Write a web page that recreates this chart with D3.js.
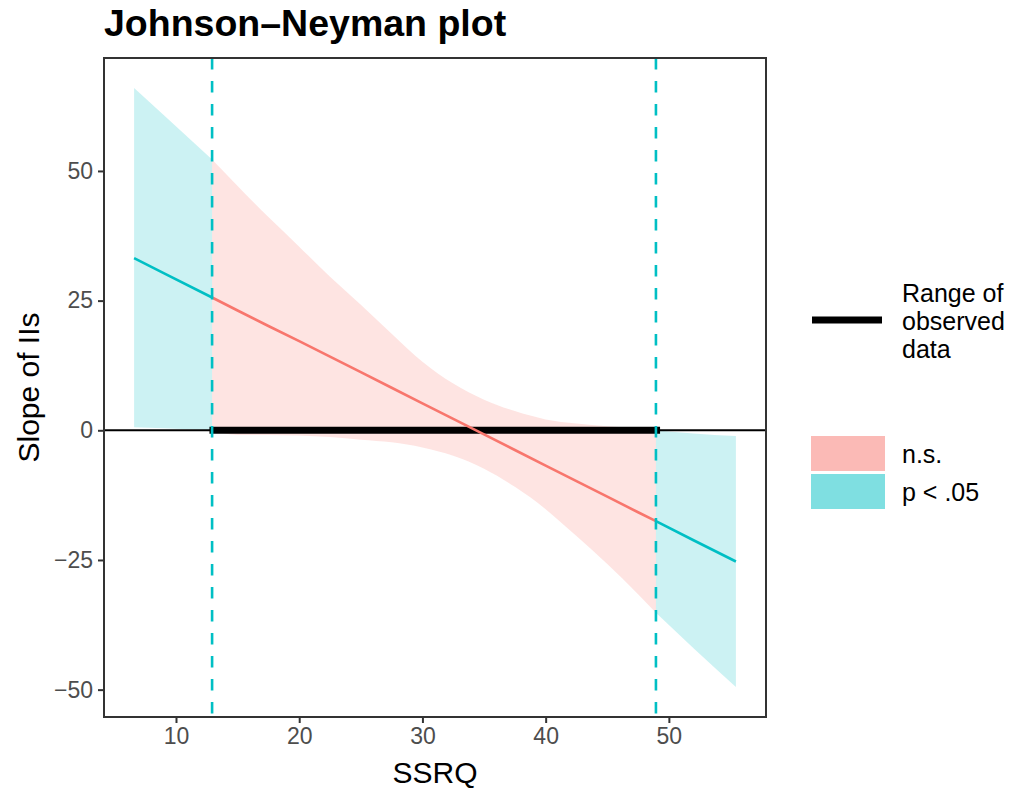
<!DOCTYPE html>
<html><head><meta charset="utf-8">
<script src="https://cdn.jsdelivr.net/npm/d3@7"></script>
<style>body{margin:0;background:#fff}svg{font-family:"Liberation Sans",Arial,Helvetica,sans-serif}</style>
</head><body><svg id="c" width="1017" height="791"></svg>
<script>
// ---- data ----
const moderator = [6.6, 9, 12.93, 15, 17.5, 20, 22.5, 25, 27.5, 30, 32.5, 35, 37.5, 40, 42.5, 45, 47.5, 48.95, 52, 55.44];
const slope     = [33.2, 30.3, 25.6, 23.1, 20.1, 17.2, 14.2, 11.2, 8.2, 5.2, 2.2, -0.8, -3.8, -6.8, -9.8, -12.8, -15.8, -17.5, -21.2, -25.3];
const ciUpper   = [66.0, 60.8, 52.2, 47.1, 41.1, 35.4, 29.6, 24.2, 18.6, 13.2, 9.0, 5.9, 3.7, 2.1, 1.3, 0.8, 0.35, 0.0, -0.6, -1.1];
const ciLower   = [0.6, 0.4, 0.0, -0.9, -0.9, -1.0, -1.3, -1.8, -2.3, -3.3, -4.9, -7.4, -10.9, -15.2, -20.4, -25.8, -31.6, -35.2, -42.0, -49.5];
const jnBounds = [12.93, 48.95];
const observedRange = [13, 49];
const xTicks = [10, 20, 30, 40, 50];
const yTicks = [-50, -25, 0, 25, 50];
const sigLevels = ["n.s.", "p < .05"];
const sigColors = ["#F8766D", "#00BFC4"];
const titleText = "Johnson\u2013Neyman plot";
const xTitle = "SSRQ";
const yTitle = "Slope of IIs";
const rangeLegend = ["Range of", "observed", "data"];

// ---- layout ----
const panel = {left: 104, right: 766, top: 58, bottom: 717};
const svg = d3.select("#c");

const rows = moderator.map((x, i) => ({x, y: slope[i], lo: ciLower[i], hi: ciUpper[i]}));
const xExt = d3.extent(moderator);
const yExt = [d3.min(ciLower), d3.max(ciUpper)];
const xPad = (xExt[1] - xExt[0]) * 0.05, yPad = (yExt[1] - yExt[0]) * 0.05;
const x = d3.scaleLinear().domain([xExt[0] - xPad, xExt[1] + xPad]).range([panel.left, panel.right]);
const y = d3.scaleLinear().domain([yExt[0] - yPad, yExt[1] + yPad]).range([panel.bottom, panel.top]);

// segments by significance
const segs = [
  {sig: 1, data: rows.filter(d => d.x <= jnBounds[0])},
  {sig: 0, data: rows.filter(d => d.x >= jnBounds[0] && d.x <= jnBounds[1])},
  {sig: 1, data: rows.filter(d => d.x >= jnBounds[1])}
];

const g = svg.append("g");
g.append("clipPath").attr("id", "clip").append("rect")
  .attr("x", panel.left).attr("y", panel.top)
  .attr("width", panel.right - panel.left).attr("height", panel.bottom - panel.top);
const pg = g.append("g").attr("clip-path", "url(#clip)");

const area = d3.area().x(d => x(d.x)).y0(d => y(d.lo)).y1(d => y(d.hi)).curve(d3.curveMonotoneX);
pg.selectAll("path.band").data(segs).join("path").attr("class", "band")
  .attr("d", s => area(s.data)).attr("fill", s => sigColors[s.sig]).attr("fill-opacity", 0.2);

// zero line
pg.append("line").attr("x1", panel.left).attr("x2", panel.right)
  .attr("y1", y(0)).attr("y2", y(0)).attr("stroke", "#000").attr("stroke-width", 2);

// observed range
pg.append("line").attr("x1", x(observedRange[0])).attr("x2", x(observedRange[1]))
  .attr("y1", y(0)).attr("y2", y(0)).attr("stroke", "#000").attr("stroke-width", 7)
  .attr("stroke-linecap", "square");

// slope line
const line = d3.line().x(d => x(d.x)).y(d => y(d.y));
pg.selectAll("path.est").data(segs).join("path").attr("class", "est")
  .attr("d", s => line(s.data)).attr("fill", "none")
  .attr("stroke", s => sigColors[s.sig]).attr("stroke-width", 2.6);

// JN bounds
pg.selectAll("line.jn").data(jnBounds).join("line").attr("class", "jn")
  .attr("x1", d => x(d)).attr("x2", d => x(d))
  .attr("y1", panel.top).attr("y2", panel.bottom)
  .attr("stroke", sigColors[1]).attr("stroke-width", 2.6)
  .attr("stroke-dasharray", "11.5,11.5");

// panel border
g.append("rect").attr("x", panel.left).attr("y", panel.top)
  .attr("width", panel.right - panel.left).attr("height", panel.bottom - panel.top)
  .attr("fill", "none").attr("stroke", "#333").attr("stroke-width", 2);

// axes
const fmt = d => d < 0 ? "\u2212" + Math.abs(d) : String(d);
const xAxis = g.append("g").attr("transform", `translate(0,${panel.bottom})`)
  .call(d3.axisBottom(x).tickValues(xTicks).tickSize(6).tickPadding(5).tickFormat(fmt));
const yAxis = g.append("g").attr("transform", `translate(${panel.left},0)`)
  .call(d3.axisLeft(y).tickValues(yTicks).tickSize(6).tickPadding(5).tickFormat(fmt));
[xAxis, yAxis].forEach(a => {
  a.select(".domain").remove();
  a.selectAll(".tick line").attr("stroke", "#333").attr("stroke-width", 2);
  a.selectAll(".tick text").attr("fill", "#4D4D4D").style("font-size", "23px")
    .style("font-family", "Liberation Sans, Arial, sans-serif");
});

// titles
svg.append("text").attr("x", panel.left).attr("y", 36).text(titleText)
  .style("font-size", "37.5px").style("font-weight", "bold").attr("fill", "#000");
svg.append("text").attr("x", (panel.left + panel.right) / 2).attr("y", 783)
  .attr("text-anchor", "middle").text(xTitle).style("font-size", "30px");
svg.append("text").attr("transform", `translate(39,${(panel.top + panel.bottom) / 2}) rotate(-90)`)
  .attr("text-anchor", "middle").text(yTitle).style("font-size", "30px");

// legend: observed range
const lg = svg.append("g");
lg.append("line").attr("x1", 812).attr("x2", 882).attr("y1", 320).attr("y2", 320)
  .attr("stroke", "#000").attr("stroke-width", 7);
lg.selectAll("text.rl").data(rangeLegend).join("text").attr("class", "rl")
  .attr("x", 902).attr("y", (d, i) => 302 + i * 28).text(d => d).style("font-size", "25px");

// legend: significance
const items = lg.selectAll("g.sig").data(sigLevels).join("g").attr("class", "sig")
  .attr("transform", (d, i) => `translate(811,${436 + i * 38})`);
items.append("rect").attr("width", 74).attr("height", 35)
  .attr("fill", (d, i) => sigColors[i]).attr("fill-opacity", 0.5);
items.append("text").attr("x", 91).attr("y", 27).text(d => d).style("font-size", "25px");
</script></body></html>
